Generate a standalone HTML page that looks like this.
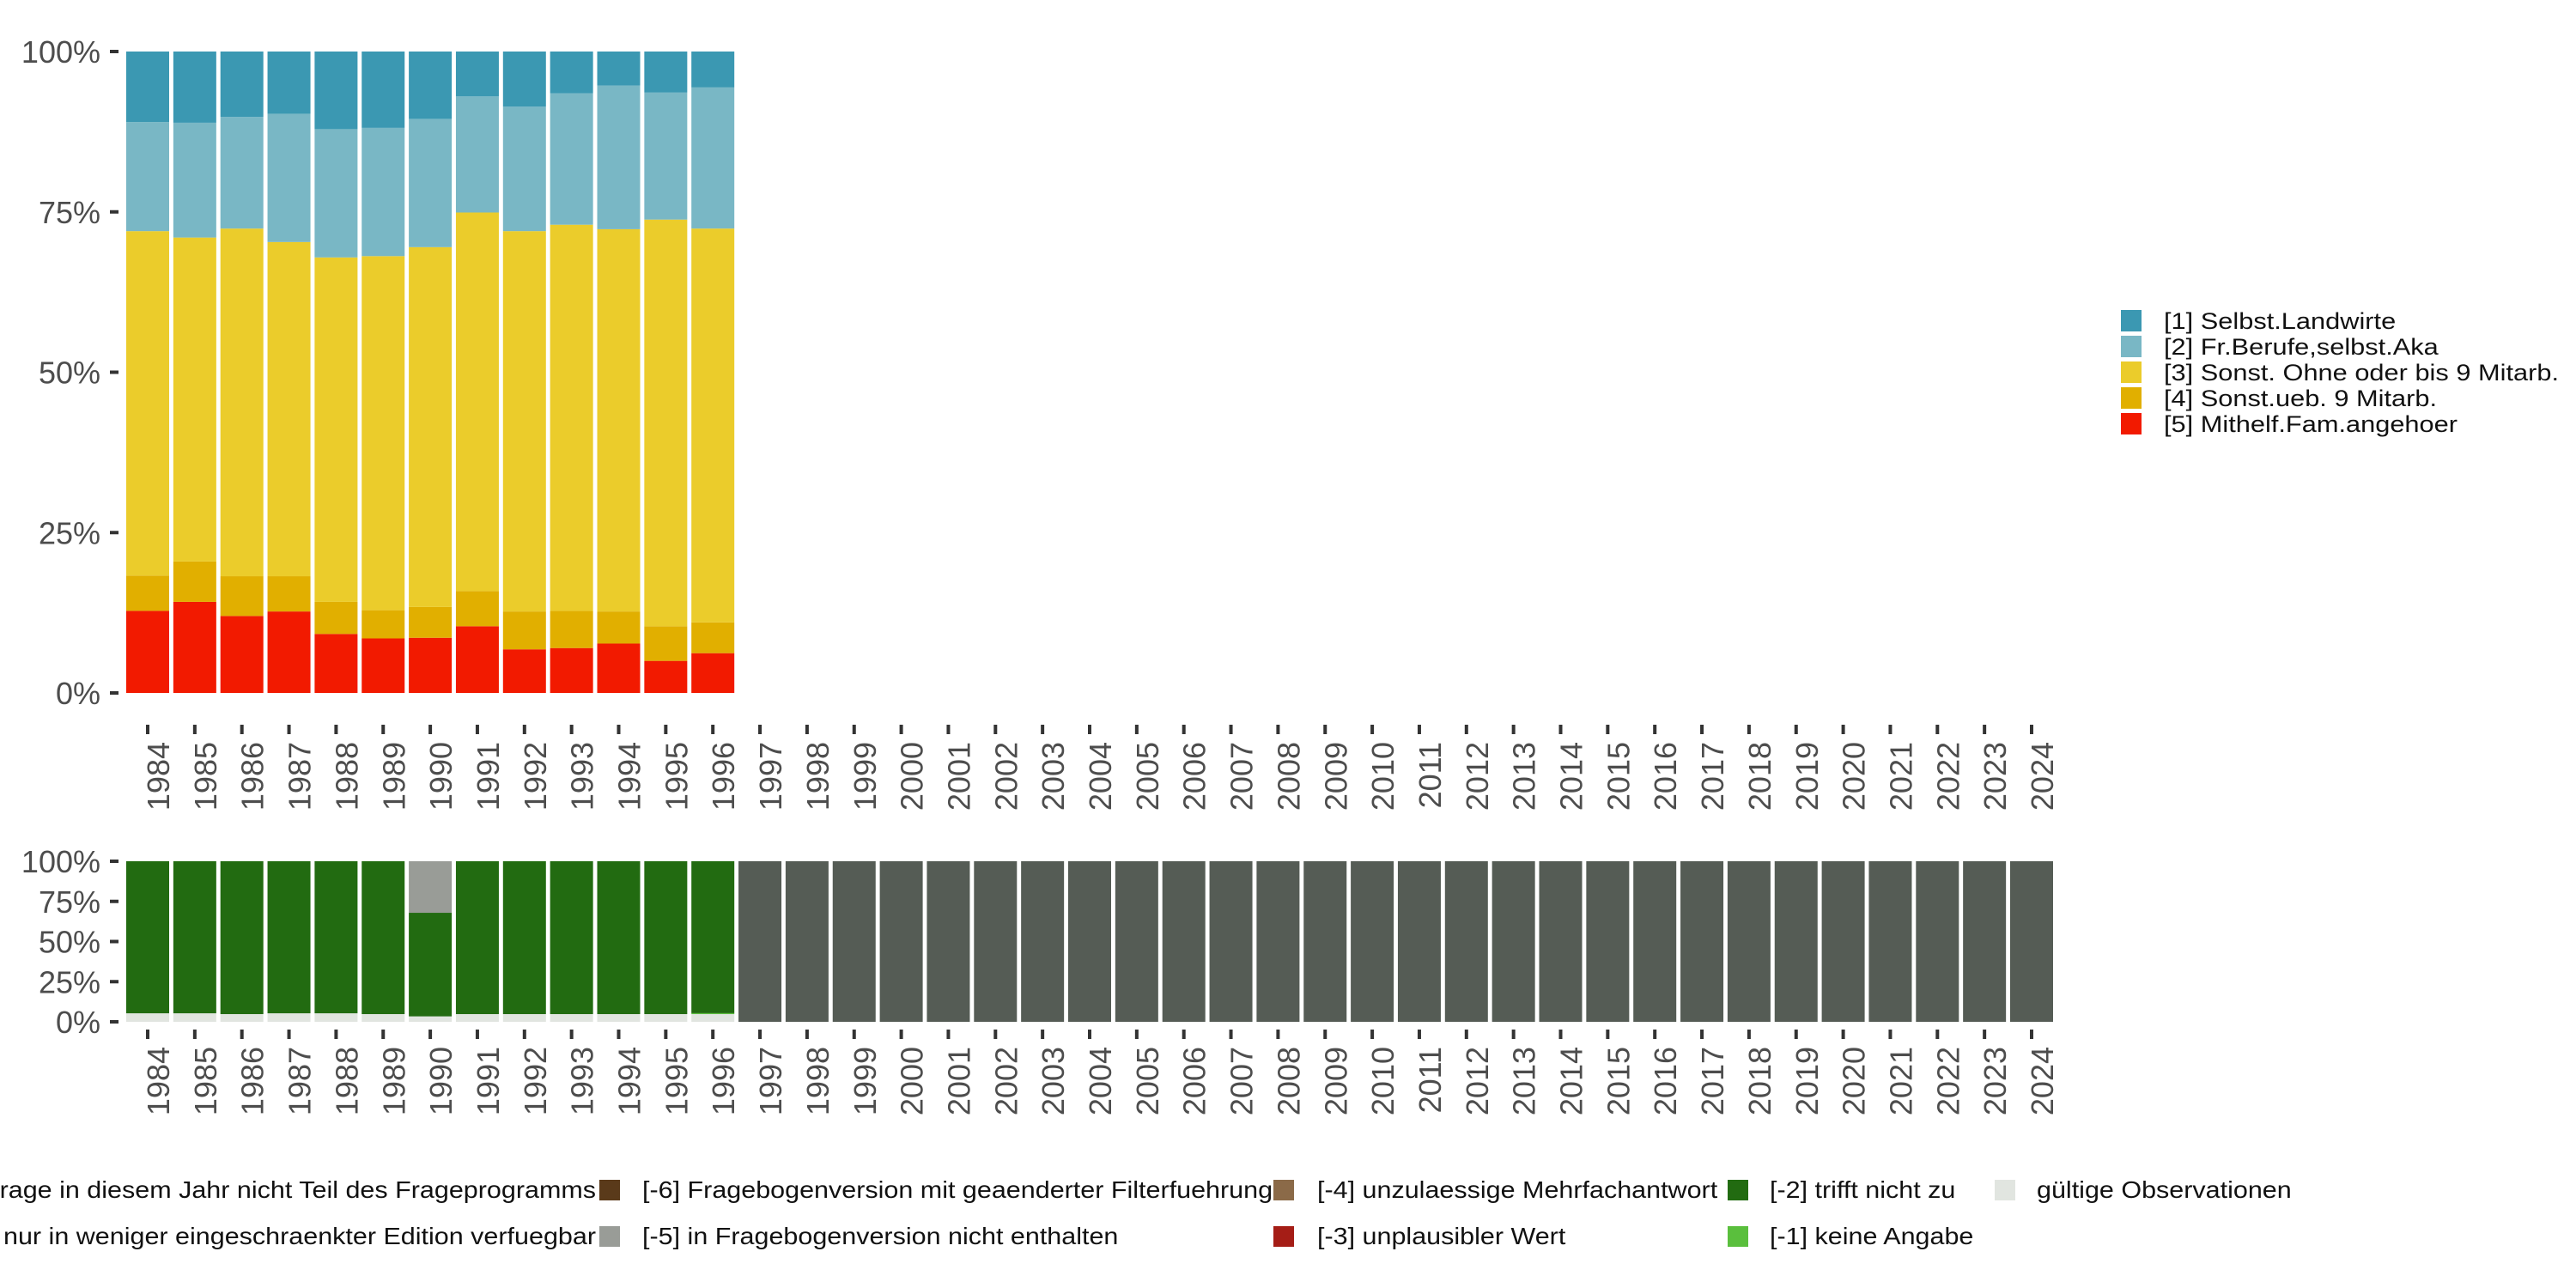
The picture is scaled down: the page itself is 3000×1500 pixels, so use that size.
<!DOCTYPE html>
<html><head><meta charset="utf-8"><style>
html,body{margin:0;padding:0;background:#fff;}
svg{display:block;font-family:"Liberation Sans",sans-serif;}
</style></head><body>
<svg id="chart" width="3000" height="1500" viewBox="0 0 3000 1500" xmlns="http://www.w3.org/2000/svg">
<g id="top"></g>
<g id="bottom"></g>
<g id="legendRight"></g>
<g id="legendBottom"></g>
</svg>
<script>
const years = [];
for (let y = 1984; y <= 2024; y++) years.push(String(y));
const topYears = ["1984","1985","1986","1987","1988","1989","1990","1991","1992","1993","1994","1995","1996"];
const catNames = ["[5] Mithelf.Fam.angehoer","[4] Sonst.ueb. 9 Mitarb.","[3] Sonst. Ohne oder bis 9 Mitarb.","[2] Fr.Berufe,selbst.Aka","[1] Selbst.Landwirte"];
const catColors = ["#f21a00","#e1af00","#ebcc2b","#79b7c5","#3b98b2"];
const sMithelf = [12.8,14.2,12.0,12.7,9.2,8.5,8.6,10.4,6.8,7.0,7.7,5.0,6.2];
const sUeb9 = [5.5,6.3,6.2,5.5,5.0,4.4,4.8,5.5,5.9,5.8,5.0,5.4,4.8];
const sBis9 = [53.7,50.5,54.2,52.1,53.7,55.2,56.1,59.0,59.3,60.2,59.6,63.4,61.4];
const sFrBerufe = [17.0,17.9,17.4,20.0,20.0,20.0,20.0,18.1,19.4,20.5,22.4,19.8,22.0];
const sLandwirte = [11.0,11.1,10.2,9.7,12.1,11.9,10.5,7.0,8.6,6.5,5.3,6.4,5.6];
const topSeries = [sMithelf,sUeb9,sBis9,sFrBerufe,sLandwirte];
const pctTicks = [0,25,50,75,100];
const pctLabels = ["0%","25%","50%","75%","100%"];
const mValid = [5.3,5.3,4.8,5.3,5.3,4.8,3.4,4.8,4.8,4.8,4.8,4.8,4.8].concat(new Array(28).fill(0));
const mMissing1 = [0,0,0,0,0,0,0,0,0,0,0,0,0.6].concat(new Array(28).fill(0));
const mTrifft = [94.7,94.7,95.2,94.7,94.7,95.2,64.5,95.2,95.2,95.2,95.2,95.2,94.6].concat(new Array(28).fill(0));
const mNotInVersion = [0,0,0,0,0,0,32.1,0,0,0,0,0,0].concat(new Array(28).fill(0));
const mNotInYear = new Array(13).fill(0).concat(new Array(28).fill(100));
const botSeries = [mValid,mMissing1,mTrifft,mNotInVersion,mNotInYear];
const botColors = ["#e1e5e0","#5abf3d","#226b11","#999c97","#555c55"];
const botNames = ["valid","keine-angabe","trifft-nicht-zu","nicht-in-version","nicht-im-jahr"];

const NS="http://www.w3.org/2000/svg";
function mk(tag,attrs,parent){const e=document.createElementNS(NS,tag);for(const k in attrs)e.setAttribute(k,attrs[k]);parent.appendChild(e);return e;}
const x0=147, pitch=54.85, bw=50;
function xPos(i){return x0+i*pitch;}
function yTop(v){return 807-v*7.47;}
function yBot(v){return 1190-v*1.87;}

function axes(g,yf,tickTop,labelTop){
  pctTicks.forEach((t,i)=>{
    const r=mk('rect',{x:128,y:yf(t)-2,width:10,height:4,fill:'#333'},g);
    
    
    const tx=mk('text',{x:117,y:yf(t)+13,'text-anchor':'end','font-size':36,fill:'#4d4d4d'},g);
    
    
    tx.textContent=pctLabels[i];
  });
  years.forEach((yr,i)=>{
    const cx=xPos(i)+bw/2;
    const r=mk('rect',{x:cx-2,y:tickTop,width:4,height:11,fill:'#333'},g);
    
    
    const tx=mk('text',{transform:`translate(${cx+25},${labelTop}) rotate(-90)`,'text-anchor':'end','font-size':36,fill:'#4d4d4d'},g);
    
    
    tx.textContent=yr;
  });
}
const gt=document.getElementById('top');
topYears.forEach((yr,i)=>{
  let acc=0;
  topSeries.forEach((s,k)=>{
    const v=s[i];
    const r=mk('rect',{x:xPos(i),y:yTop(acc+v),width:bw,height:yTop(acc)-yTop(acc+v),fill:catColors[k]},gt);
    
    
    acc+=v;
  });
});
axes(gt,yTop,844,864);
const gb=document.getElementById('bottom');
years.forEach((yr,i)=>{
  let acc=0;
  botSeries.forEach((s,k)=>{
    const v=s[i]; if(!v) return;
    const r=mk('rect',{x:xPos(i),y:yBot(acc+v),width:bw,height:yBot(acc)-yBot(acc+v),fill:botColors[k]},gb);
    
    
    acc+=v;
  });
});
axes(gb,yBot,1199,1219);

const gl=document.getElementById('legendRight');
for(let k=4;k>=0;k--){
  const row=4-k;
  const r=mk('rect',{x:2470,y:361+row*30,width:24,height:25,fill:catColors[k]},gl);
  
  
  const t=mk('text',{transform:`translate(2520,${383+row*30}) scale(1.14,1)`,'font-size':27,fill:'#111'},gl);
  
  
  t.textContent=catNames[k];
}
const bItems=[
 {kx:null,tx:694,row:0,c:'#555c55',t:'[-8] Frage in diesem Jahr nicht Teil des Frageprogramms',end:true},
 {kx:null,tx:694,row:1,c:'#b0b0b0',t:'[-7] nur in weniger eingeschraenkter Edition verfuegbar',end:true},
 {kx:698,tx:748,row:0,c:'#5a3a1a',t:'[-6] Fragebogenversion mit geaenderter Filterfuehrung'},
 {kx:698,tx:748,row:1,c:'#999c97',t:'[-5] in Fragebogenversion nicht enthalten'},
 {kx:1483,tx:1534,row:0,c:'#8b6a48',t:'[-4] unzulaessige Mehrfachantwort'},
 {kx:1483,tx:1534,row:1,c:'#a51d16',t:'[-3] unplausibler Wert'},
 {kx:2012,tx:2061,row:0,c:'#226b11',t:'[-2] trifft nicht zu'},
 {kx:2012,tx:2061,row:1,c:'#5abf3d',t:'[-1] keine Angabe'},
 {kx:2323,tx:2372,row:0,c:'#e1e5e0',t:'gültige Observationen'}
];
const gbl=document.getElementById('legendBottom');
bItems.forEach(it=>{
  const yy=1374+it.row*54;
  if(it.kx!==null){
    const r=mk('rect',{x:it.kx,y:yy,width:24,height:24,fill:it.c},gbl);
    
    
  }
  const t=mk('text',{transform:`translate(${it.tx},${yy+21}) scale(1.09,1)`,'font-size':28,fill:'#111','text-anchor':it.end?'end':'start'},gbl);
  
  
  t.textContent=it.t;
});
</script>
</body></html>
